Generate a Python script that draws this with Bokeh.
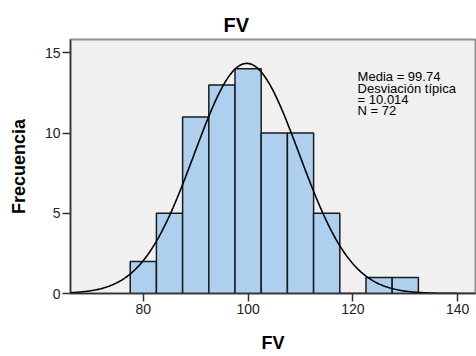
import numpy as np
from bokeh.plotting import figure
from bokeh.models import Range1d, Label, FixedTicker
from bokeh.embed import file_html
from bokeh.resources import INLINE

# ---- data ----
bin_centers = [80, 85, 90, 95, 100, 105, 110, 115, 120, 125, 130]
counts = [2, 5, 11, 13, 14, 10, 10, 5, 0, 1, 1]
bin_width = 5
mean = 99.74
std_dev = 10.014
n = 72
x_ticks = [80, 100, 120, 140]
y_ticks = [0, 5, 10, 15]
stat_labels = ["Media = 99.74", "Desviación típica", "= 10.014", "N = 72"]
title_text = "FV"
x_label = "FV"
y_label = "Frecuencia"

FONT = "Liberation Sans"

p = figure(width=476, height=356, output_backend="svg", toolbar_location=None,
           x_range=Range1d(66.1, 143.4), y_range=Range1d(0, 15.83),
           min_border_left=70, min_border_right=1, min_border_top=39,
           min_border_bottom=63)

p.background_fill_color = "#f0f0f0"
p.border_fill_color = "white"
p.outline_line_color = "#8f8f8f"
p.outline_line_width = 2
p.grid.visible = False

p.vbar(x=bin_centers, top=counts, width=bin_width, bottom=0,
       fill_color="#aed0ee", line_color="#1a1a1a", line_width=1.5)

xs = np.linspace(66.1, 143.4, 400)
ys = n * bin_width * np.exp(-0.5 * ((xs - mean) / std_dev) ** 2) / (std_dev * np.sqrt(2 * np.pi))
p.line(xs, ys, line_color="black", line_width=1.6)

for i, t in enumerate(stat_labels):
    p.add_layout(Label(x=120.9, y=13.5, y_offset=-i * 11.3, text=t,
                       text_font=FONT, text_font_size="13px", text_color="black",
                       text_baseline="alphabetic"))

p.title.text = title_text
p.title.text_font = FONT
p.title.text_font_size = "20px"
p.title.text_font_style = "bold"
p.title.text_color = "black"
p.title.align = "left"
p.title.offset = 153
p.title.standoff = 8

for ax in (p.xaxis[0], p.yaxis[0]):
    ax.axis_line_color = "#333333"
    ax.axis_line_width = 1.5
    ax.major_tick_line_color = "#333333"
    ax.major_tick_line_width = 1.5
    ax.major_tick_out = 8
    ax.major_tick_in = 0
    ax.minor_tick_line_color = None
    ax.major_label_text_font = FONT
    ax.major_label_text_font_size = "14px"
    ax.major_label_text_color = "#222222"
    ax.axis_label_text_font = FONT
    ax.axis_label_text_font_style = "bold"
    ax.axis_label_text_font_size = "18px"
    ax.axis_label_text_color = "black"

p.xaxis.ticker = FixedTicker(ticks=x_ticks)
p.yaxis.ticker = FixedTicker(ticks=y_ticks)
p.xaxis.axis_label = x_label
p.yaxis.axis_label = y_label
p.xaxis.major_label_standoff = 2
p.yaxis.major_label_standoff = 2
p.xaxis.axis_label_standoff = 16
p.yaxis.axis_label_standoff = 13

open("out.html", "w").write(file_html(p, INLINE))
